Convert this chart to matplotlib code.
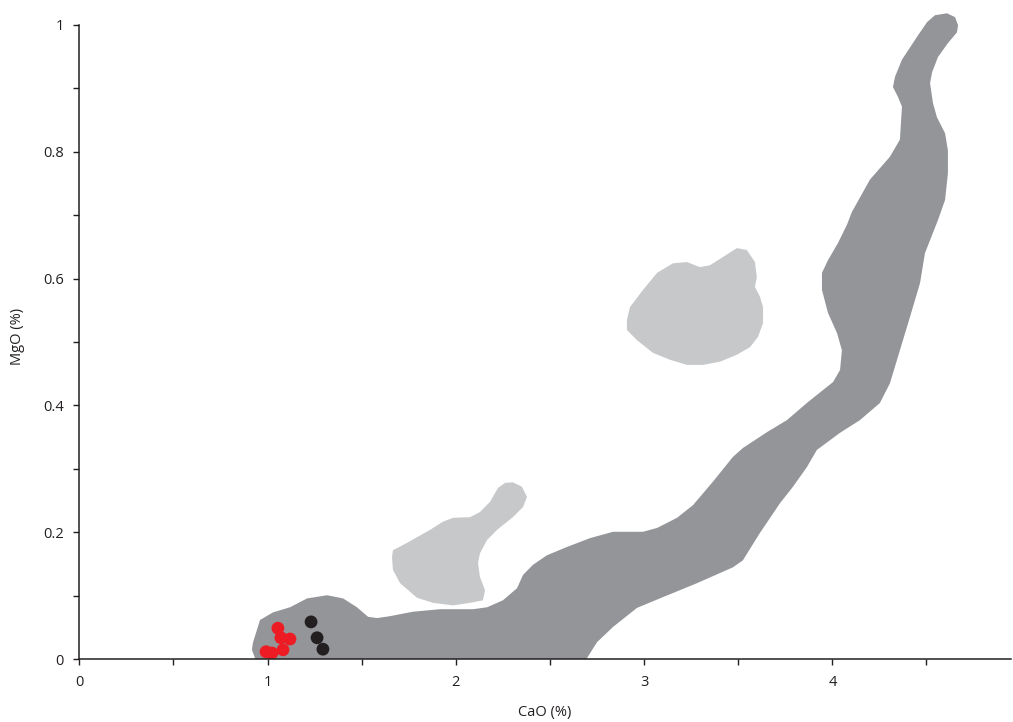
import matplotlib
matplotlib.use("Agg")
import matplotlib.pyplot as plt
from matplotlib.patches import Polygon
from matplotlib.ticker import MultipleLocator
import numpy as np

plt.rcParams['font.family'] = ['Open Sans', 'DejaVu Sans']

# main field (dark grey band), outline in CaO / MgO units
band_cao = [0.96, 0.917, 0.922, 0.960, 1.029, 1.119, 1.210, 1.316, 1.401, 1.475,
            1.534, 1.581, 1.650, 1.772, 1.916, 2.091, 2.166, 2.250, 2.325, 2.357,
            2.410, 2.484, 2.590, 2.713, 2.835, 2.909, 2.994, 3.069, 3.175, 3.260,
            3.366, 3.472, 3.525, 3.653, 3.759, 3.865, 4.004, 4.041, 4.051, 4.025,
            3.977, 3.945, 3.945, 3.977, 4.030, 4.078, 4.104, 4.200, 4.306, 4.359,
            4.370, 4.349, 4.322, 4.333, 4.370, 4.450, 4.503, 4.545, 4.609, 4.652,
            4.668, 4.662, 4.614, 4.561, 4.530, 4.519, 4.535, 4.556, 4.599, 4.614,
            4.614, 4.599, 4.561, 4.492, 4.466, 4.412, 4.359, 4.306, 4.253, 4.147,
            4.041, 3.918, 3.865, 3.791, 3.722, 3.615, 3.552, 3.525, 3.472, 3.281,
            3.100, 2.962, 2.835, 2.750, 2.697, 2.675, 2.675, 0.96]
band_mgo = [-0.02, 0.015, 0.026, 0.062, 0.074, 0.082, 0.096, 0.101, 0.096, 0.082,
            0.067, 0.065, 0.068, 0.075, 0.079, 0.079, 0.082, 0.093, 0.112, 0.133,
            0.149, 0.164, 0.177, 0.191, 0.201, 0.201, 0.201, 0.207, 0.223, 0.243,
            0.280, 0.319, 0.333, 0.358, 0.377, 0.404, 0.437, 0.456, 0.487, 0.514,
            0.546, 0.582, 0.609, 0.629, 0.656, 0.685, 0.705, 0.756, 0.792, 0.819,
            0.871, 0.886, 0.902, 0.918, 0.945, 0.981, 1.004, 1.015, 1.018, 1.012,
            0.999, 0.988, 0.971, 0.949, 0.925, 0.908, 0.876, 0.854, 0.829, 0.802,
            0.766, 0.724, 0.692, 0.640, 0.593, 0.539, 0.487, 0.435, 0.404, 0.377,
            0.357, 0.330, 0.303, 0.272, 0.246, 0.199, 0.169, 0.156, 0.145, 0.120,
            0.098, 0.081, 0.051, 0.027, 0.002, -0.017, -0.03, -0.03]

# upper light grey field
up_cao = [2.909, 2.925, 2.994, 3.069, 3.153, 3.228, 3.297, 3.350, 3.419, 3.493,
          3.546, 3.589, 3.599, 3.589, 3.616, 3.632, 3.632, 3.605, 3.563, 3.493,
          3.403, 3.313, 3.228, 3.138, 3.047, 2.962, 2.909]
up_mgo = [0.535, 0.555, 0.582, 0.609, 0.624, 0.626, 0.618, 0.621, 0.634, 0.648,
          0.645, 0.626, 0.602, 0.587, 0.571, 0.555, 0.530, 0.508, 0.492, 0.480,
          0.469, 0.464, 0.464, 0.472, 0.483, 0.503, 0.519]

# lower light grey field
low_cao = [1.666, 1.719, 1.863, 1.932, 1.985, 2.075, 2.128, 2.181, 2.224, 2.261,
           2.303, 2.351, 2.378, 2.357, 2.303, 2.219, 2.166, 2.128, 2.118, 2.128,
           2.155, 2.144, 2.075, 1.985, 1.879, 1.794, 1.704, 1.666, 1.661]
low_mgo = [0.172, 0.180, 0.204, 0.217, 0.223, 0.224, 0.232, 0.248, 0.270, 0.278,
           0.279, 0.272, 0.256, 0.240, 0.224, 0.204, 0.188, 0.167, 0.152, 0.130,
           0.109, 0.093, 0.089, 0.085, 0.089, 0.097, 0.120, 0.141, 0.161]

# samples
red_cao = [1.055, 1.071, 1.119, 1.082, 0.992, 1.023]
red_mgo = [0.049, 0.034, 0.032, 0.015, 0.012, 0.010]
black_cao = [1.231, 1.263, 1.294]
black_mgo = [0.059, 0.034, 0.016]

fig = plt.figure(figsize=(10.13, 7.22), dpi=100)
ax = fig.add_axes([0.0783, 0.0868, 0.9197, 0.9097])

ax.add_patch(Polygon(np.column_stack([band_cao, band_mgo]), closed=True,
                     fc='#939598', ec='none', zorder=1))
ax.add_patch(Polygon(np.column_stack([up_cao, up_mgo]), closed=True,
                     fc='#c7c8ca', ec='none', zorder=1))
ax.add_patch(Polygon(np.column_stack([low_cao, low_mgo]), closed=True,
                     fc='#c7c8ca', ec='none', zorder=1))

ax.scatter(red_cao, red_mgo, s=85, c='#ed1c24', edgecolors='none', zorder=3)
ax.scatter(black_cao, black_mgo, s=85, c='#231f20', edgecolors='none', zorder=3)

ax.set_xlim(0, 4.949)
ax.set_ylim(0, 1.035)

for s in ['top', 'right']:
    ax.spines[s].set_visible(False)
for s in ['left', 'bottom']:
    ax.spines[s].set_linewidth(1.1)
    ax.spines[s].set_color('#231f20')
    ax.spines[s].set_zorder(4)
ax.spines['left'].set_bounds(0, 1)

ax.xaxis.set_minor_locator(MultipleLocator(0.5))
ax.yaxis.set_minor_locator(MultipleLocator(0.1))
ax.set_yticks([0, 0.2, 0.4, 0.6, 0.8, 1.0])
ax.set_yticklabels(['0', '0.2', '0.4', '0.6', '0.8', '1'])
ax.set_xticks([0, 1, 2, 3, 4])
ax.set_xticklabels(['0', '1', '2', '3', '4'])

ax.tick_params(which='both', direction='out', length=4, width=1.0,
               color='#231f20', labelsize=10.5, labelcolor='#231f20')
ax.tick_params(axis='x', which='major', pad=7.5)
ax.tick_params(axis='y', which='major', pad=7)

ax.set_xlabel('CaO (%)', fontsize=10.5, color='#231f20')
ax.set_ylabel('MgO (%)', fontsize=10.5, color='#231f20')
ax.xaxis.set_label_coords(0.5, -0.0696)
ax.yaxis.set_label_coords(-0.058, 0.491)

fig.savefig('out.png', dpi=100)
